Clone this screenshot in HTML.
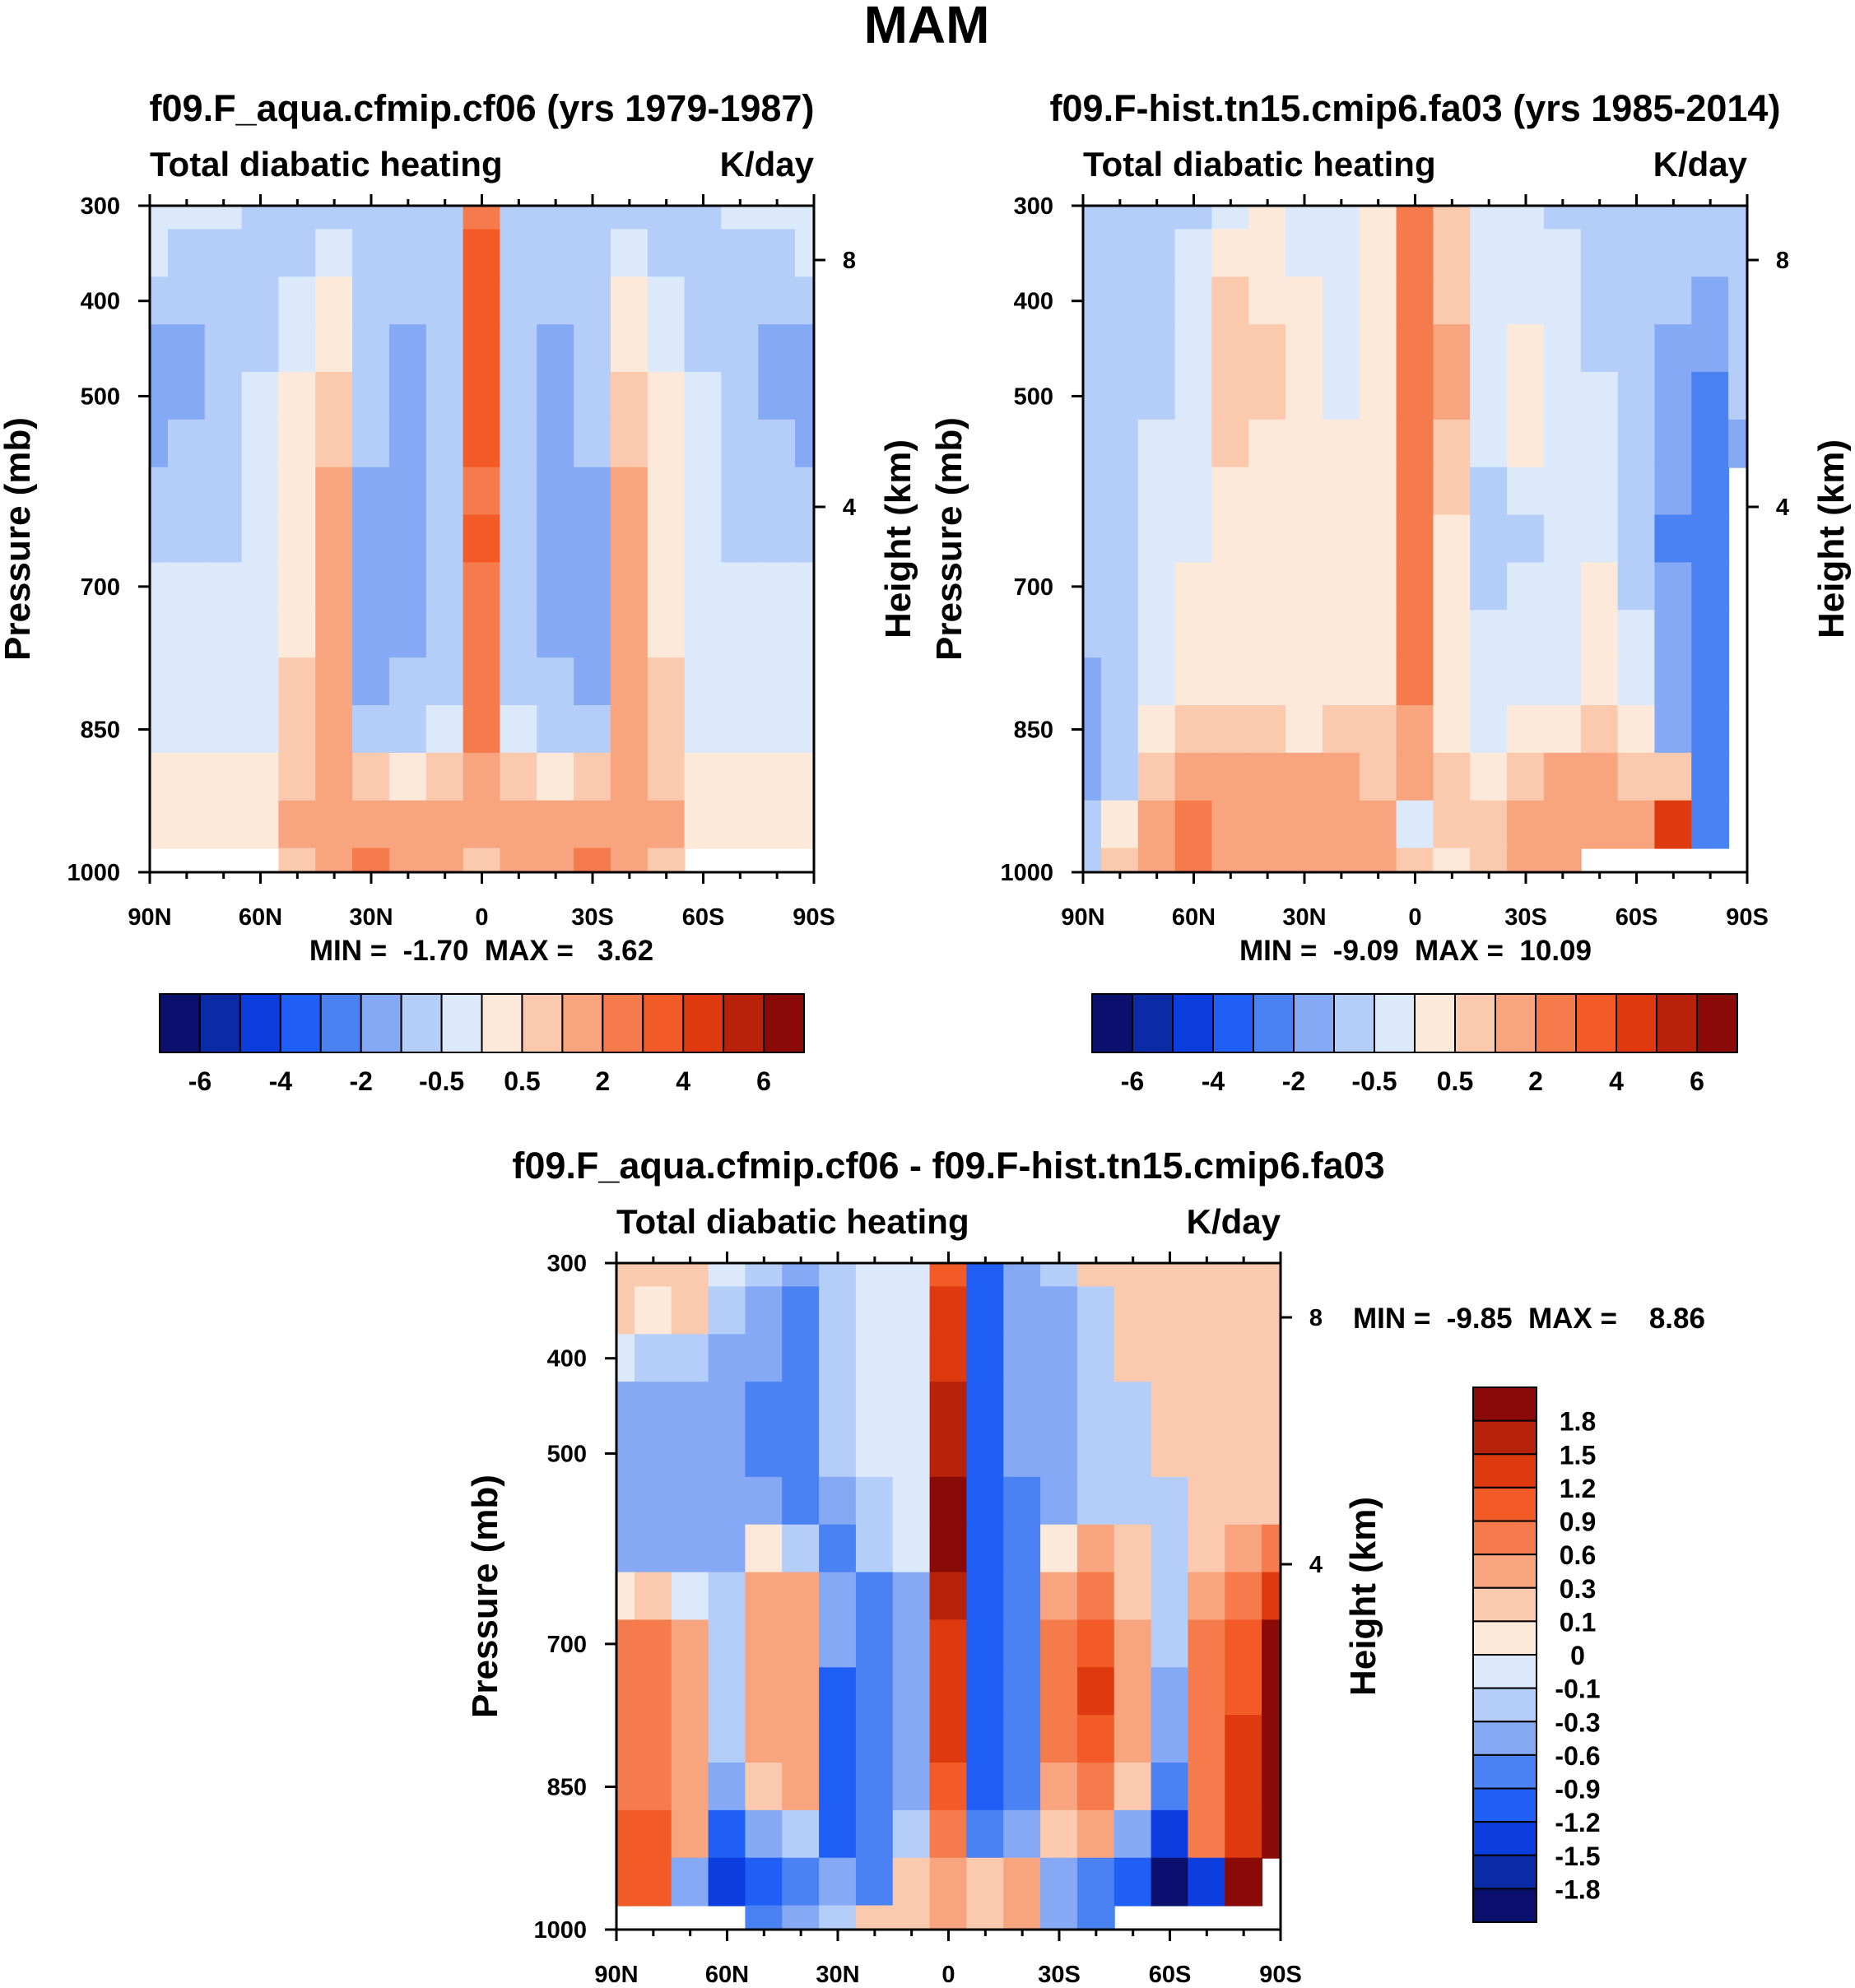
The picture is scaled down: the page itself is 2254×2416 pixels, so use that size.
<!DOCTYPE html>
<html><head><meta charset="utf-8">
<style>
html,body{margin:0;padding:0;background:#fff;}
svg{display:block;font-family:"Liberation Sans",Arial,sans-serif;font-weight:bold;}
</style></head>
<body>
<svg id="fig" width="2254" height="2416" viewBox="0 0 2254 2416" xmlns="http://www.w3.org/2000/svg">
<rect width="2254" height="2416" fill="#fff"/>
<text x="1126" y="52" font-size="64" text-anchor="middle">MAM</text>
</svg>
<script>
const lats=[90,80,70,60,50,40,30,20,10,0,-10,-20,-30,-40,-50,-60,-70,-80,-90];
const pressures=[300,350,400,450,500,550,600,650,700,750,800,850,900,950,1000];
const palette=["#0b0f6e","#0a2aa6","#0b3ddf","#1f5ff5","#4a82f4","#86a9f5","#b4cdf9","#dce9fb","#fde9d9","#fbc9ae","#f8a47f","#f57a4c","#f25a27","#df390f","#b8220b","#8a0a08"];
const levelsAbs=[-6,-5,-4,-3,-2,-1,-0.5,0,0.5,1,2,3,4,5,6];
const levelsDiff=[-1.8,-1.5,-1.2,-0.9,-0.6,-0.3,-0.1,0,0.1,0.3,0.6,0.9,1.2,1.5,1.8];
const absTickLabels=["-6","-4","-2","-0.5","0.5","2","4","6"];
const diffTickLabels=["1.8","1.5","1.2","0.9","0.6","0.3","0.1","0","-0.1","-0.3","-0.6","-0.9","-1.2","-1.5","-1.8"];
const latLabels=["90N","60N","30N","0","30S","60S","90S"];
const presLabels=[300,400,500,700,850,1000];
const heightTicks=[8,4];
const p1Values=[
[-0.3,-0.3,-0.3,-0.7,-0.7,-0.7,-0.7,-0.7,-0.7,2.5,-0.7,-0.7,-0.7,-0.7,-0.7,-0.7,-0.3,-0.3,-0.3],
[-0.3,-0.7,-0.7,-0.7,-0.7,-0.3,-0.7,-0.7,-0.7,3.5,-0.7,-0.7,-0.7,-0.3,-0.7,-0.7,-0.7,-0.7,-0.3],
[-0.7,-0.7,-0.7,-0.7,-0.3,0.3,-0.7,-0.7,-0.7,3.5,-0.7,-0.7,-0.7,0.3,-0.3,-0.7,-0.7,-0.7,-0.7],
[-1.5,-1.5,-0.7,-0.7,-0.3,0.3,-0.7,-1.5,-0.7,3.5,-0.7,-1.5,-0.7,0.3,-0.3,-0.7,-0.7,-1.5,-1.5],
[-1.5,-1.5,-0.7,-0.3,0.3,0.7,-0.7,-1.5,-0.7,3.5,-0.7,-1.5,-0.7,0.7,0.3,-0.3,-0.7,-1.5,-1.5],
[-1.5,-0.7,-0.7,-0.3,0.3,0.7,-0.7,-1.5,-0.7,3.5,-0.7,-1.5,-0.7,0.7,0.3,-0.3,-0.7,-0.7,-1.5],
[-0.7,-0.7,-0.7,-0.3,0.3,1.5,-1.5,-1.5,-0.7,2.5,-0.7,-1.5,-1.5,1.5,0.3,-0.3,-0.7,-0.7,-0.7],
[-0.7,-0.7,-0.7,-0.3,0.3,1.5,-1.5,-1.5,-0.7,3.5,-0.7,-1.5,-1.5,1.5,0.3,-0.3,-0.7,-0.7,-0.7],
[-0.3,-0.3,-0.3,-0.3,0.3,1.5,-1.5,-1.5,-0.7,2.5,-0.7,-1.5,-1.5,1.5,0.3,-0.3,-0.3,-0.3,-0.3],
[-0.3,-0.3,-0.3,-0.3,0.3,1.5,-1.5,-1.5,-0.7,2.5,-0.7,-1.5,-1.5,1.5,0.3,-0.3,-0.3,-0.3,-0.3],
[-0.3,-0.3,-0.3,-0.3,0.7,1.5,-1.5,-0.7,-0.7,2.5,-0.7,-0.7,-1.5,1.5,0.7,-0.3,-0.3,-0.3,-0.3],
[-0.3,-0.3,-0.3,-0.3,0.7,1.5,-0.7,-0.7,-0.3,2.5,-0.3,-0.7,-0.7,1.5,0.7,-0.3,-0.3,-0.3,-0.3],
[0.3,0.3,0.3,0.3,0.7,1.5,0.7,0.3,0.7,1.5,0.7,0.3,0.7,1.5,0.7,0.3,0.3,0.3,0.3],
[0.3,0.3,0.3,0.3,1.5,1.5,1.5,1.5,1.5,1.5,1.5,1.5,1.5,1.5,1.5,0.3,0.3,0.3,0.3],
[null,null,null,null,0.7,1.5,2.5,1.5,1.5,0.7,1.5,1.5,2.5,1.5,0.7,null,null,null,null]];
const p2Values=[
[-0.7,-0.7,-0.7,-0.7,-0.3,0.3,-0.3,-0.3,0.3,2.5,0.7,-0.3,-0.3,-0.7,-0.7,-0.7,-0.7,-0.7,-0.7],
[-0.7,-0.7,-0.7,-0.3,0.3,0.3,-0.3,-0.3,0.3,2.5,0.7,-0.3,-0.3,-0.3,-0.7,-0.7,-0.7,-0.7,-0.7],
[-0.7,-0.7,-0.7,-0.3,0.7,0.3,0.3,-0.3,0.3,2.5,0.7,-0.3,-0.3,-0.3,-0.7,-0.7,-0.7,-1.5,-0.7],
[-0.7,-0.7,-0.7,-0.3,0.7,0.7,0.3,-0.3,0.3,2.5,1.5,-0.3,0.3,-0.3,-0.7,-0.7,-1.5,-1.5,-0.7],
[-0.7,-0.7,-0.7,-0.3,0.7,0.7,0.3,-0.3,0.3,2.5,1.5,-0.3,0.3,-0.3,-0.3,-0.7,-1.5,-2.5,-0.7],
[-0.7,-0.7,-0.3,-0.3,0.7,0.3,0.3,0.3,0.3,2.5,0.7,-0.3,0.3,-0.3,-0.3,-0.7,-1.5,-2.5,-1.5],
[-0.7,-0.7,-0.3,-0.3,0.3,0.3,0.3,0.3,0.3,2.5,0.7,-0.7,-0.3,-0.3,-0.3,-0.7,-1.5,-2.5,null],
[-0.7,-0.7,-0.3,-0.3,0.3,0.3,0.3,0.3,0.3,2.5,0.3,-0.7,-0.7,-0.3,-0.3,-0.7,-2.5,-2.5,null],
[-0.7,-0.7,-0.3,0.3,0.3,0.3,0.3,0.3,0.3,2.5,0.3,-0.7,-0.3,-0.3,0.3,-0.7,-1.5,-2.5,null],
[-0.7,-0.7,-0.3,0.3,0.3,0.3,0.3,0.3,0.3,2.5,0.3,-0.3,-0.3,-0.3,0.3,-0.3,-1.5,-2.5,null],
[-1.5,-0.7,-0.3,0.3,0.3,0.3,0.3,0.3,0.3,2.5,0.3,-0.3,-0.3,-0.3,0.3,-0.3,-1.5,-2.5,null],
[-1.5,-0.7,0.3,0.7,0.7,0.7,0.3,0.7,0.7,1.5,0.3,-0.3,0.3,0.3,0.7,0.3,-1.5,-2.5,null],
[-1.5,-0.7,0.7,1.5,1.5,1.5,1.5,1.5,0.7,1.5,0.7,0.3,0.7,1.5,1.5,0.7,0.7,-2.5,null],
[-0.7,0.3,1.5,2.5,1.5,1.5,1.5,1.5,1.5,-0.3,0.7,0.7,1.5,1.5,1.5,1.5,4.5,-2.5,null],
[-0.7,0.7,1.5,2.5,1.5,1.5,1.5,1.5,1.5,0.7,0.3,0.7,1.5,1.5,null,null,null,null,null]];
const diffValues=[
[0.2,0.2,0.2,-0.05,-0.2,-0.4,-0.2,-0.05,-0.05,1.0,-1.0,-0.4,-0.2,0.2,0.2,0.2,0.2,0.2,0.2],
[0.2,0.05,0.2,-0.2,-0.4,-0.7,-0.2,-0.05,-0.05,1.3,-1.0,-0.4,-0.4,-0.2,0.2,0.2,0.2,0.2,0.2],
[-0.05,-0.2,-0.2,-0.4,-0.4,-0.7,-0.2,-0.05,-0.05,1.3,-1.0,-0.4,-0.4,-0.2,0.2,0.2,0.2,0.2,0.2],
[-0.4,-0.4,-0.4,-0.4,-0.7,-0.7,-0.2,-0.05,-0.05,1.6,-1.0,-0.4,-0.4,-0.2,-0.2,0.2,0.2,0.2,0.2],
[-0.4,-0.4,-0.4,-0.4,-0.7,-0.7,-0.2,-0.05,-0.05,1.6,-1.0,-0.4,-0.4,-0.2,-0.2,0.2,0.2,0.2,0.2],
[-0.4,-0.4,-0.4,-0.4,-0.4,-0.7,-0.4,-0.2,-0.05,1.9,-1.0,-0.7,-0.4,-0.2,-0.2,-0.2,0.2,0.2,0.2],
[-0.4,-0.4,-0.4,-0.4,0.05,-0.2,-0.7,-0.2,-0.05,1.9,-1.0,-0.7,0.05,0.4,0.2,-0.2,0.2,0.4,0.7],
[0.05,0.2,-0.05,-0.2,0.4,0.4,-0.4,-0.7,-0.4,1.6,-1.0,-0.7,0.4,0.7,0.2,-0.2,0.4,0.7,1.3],
[0.7,0.7,0.4,-0.2,0.4,0.4,-0.4,-0.7,-0.4,1.3,-1.0,-0.7,0.7,1.0,0.4,-0.2,0.7,1.0,1.9],
[0.7,0.7,0.4,-0.2,0.4,0.4,-1.0,-0.7,-0.4,1.3,-1.0,-0.7,0.7,1.3,0.4,-0.4,0.7,1.0,1.9],
[0.7,0.7,0.4,-0.2,0.4,0.4,-1.0,-0.7,-0.4,1.3,-1.0,-0.7,0.7,1.0,0.4,-0.4,0.7,1.3,1.9],
[0.7,0.7,0.4,-0.4,0.2,0.4,-1.0,-0.7,-0.4,1.0,-1.0,-0.7,0.4,0.7,0.2,-0.7,0.7,1.3,1.9],
[1.0,1.0,0.4,-1.0,-0.4,-0.2,-1.0,-0.7,-0.2,0.7,-0.7,-0.4,0.2,0.4,-0.4,-1.4,0.7,1.3,1.9],
[1.0,1.0,-0.4,-1.4,-1.0,-0.7,-0.4,-0.7,0.2,0.4,0.2,0.4,-0.4,-0.7,-1.0,-2.0,-1.4,2.0,null],
[null,null,null,null,-0.7,-0.4,-0.2,0.2,0.2,0.4,0.2,0.4,-0.4,-0.7,null,null,null,null,null]];

const NS="http://www.w3.org/2000/svg";
const svg=document.getElementById('fig');
function el(tag,attrs,parent,txt){const e=document.createElementNS(NS,tag);for(const k in attrs)e.setAttribute(k,attrs[k]);if(txt!==undefined)e.textContent=txt;(parent||svg).appendChild(e);return e;}
function colorFor(v,levels){let i=0;while(i<levels.length&&v>levels[i])i++;return palette[i];}

function drawPanel(name,x0,y0,w,h,values,levels,opts){
  const g=el('g',{});
  
  
  const xOf=lat=>x0+(90-lat)/180*w;
  const yOf=p=>y0+(p-300)/700*h;
  values.forEach((row,ri)=>{
    const p=pressures[ri];
    const ya=yOf(Math.max(300,p-25)), yb=yOf(Math.min(1000,p+25));
    row.forEach((v,ci)=>{
      if(v===null)return;
      const lat=lats[ci];
      const xa=xOf(Math.min(90,lat+5)), xb=xOf(Math.max(-90,lat-5));
      const r=el('rect',{x:xa-0.5,y:ya-0.5,width:xb-xa+1,height:yb-ya+1,fill:colorFor(v,levels)},g);
      
      
    });
  });
  const fr=el('rect',{x:x0,y:y0,width:w,height:h,fill:'none',stroke:'#000','stroke-width':3});
  
  
  for(let lat=90;lat>=-90;lat-=10){
    const x=xOf(lat);const major=lat%30===0;const L=major?14:8;
    el('line',{x1:x,y1:y0+h,x2:x,y2:y0+h+L,stroke:'#000','stroke-width':3});
    el('line',{x1:x,y1:y0,x2:x,y2:y0-L,stroke:'#000','stroke-width':3});
  }
  latLabels.forEach((lb,i)=>{
    const t=el('text',{x:xOf(90-30*i),y:y0+h+64,'font-size':29,'text-anchor':'middle'},svg,lb);
    
    
  });
  presLabels.forEach(p=>{
    const y=yOf(p);
    el('line',{x1:x0-14,y1:y,x2:x0,y2:y,stroke:'#000','stroke-width':3});
    const t=el('text',{x:x0-36,y:y+10,'font-size':29,'text-anchor':'end'},svg,String(p));
    
    
  });
  heightTicks.forEach(k=>{
    const y=y0+(k===8?66:366);
    el('line',{x1:x0+w,y1:y,x2:x0+w+14,y2:y,stroke:'#000','stroke-width':3});
    const t=el('text',{x:x0+w+43,y:y+10,'font-size':29,'text-anchor':'middle'},svg,String(k));
    
    
  });
  let t=el('text',{x:x0+w/2,y:y0-103,'font-size':45,'text-anchor':'middle'},svg,opts.title);
  
  
  t=el('text',{x:x0,y:y0-36,'font-size':42},svg,'Total diabatic heating');
  
  
  t=el('text',{x:x0+w,y:y0-36,'font-size':42,'text-anchor':'end'},svg,'K/day');
  
  
  t=el('text',{x:opts.pressX,y:0,'font-size':44,'text-anchor':'middle',transform:`rotate(-90 ${opts.pressX} ${y0+h/2}) translate(0 ${y0+h/2})`},svg,'Pressure (mb)');
  
  
  t=el('text',{x:opts.heightX,y:0,'font-size':44,'text-anchor':'middle',transform:`rotate(-90 ${opts.heightX} ${y0+h/2}) translate(0 ${y0+h/2})`},svg,'Height (km)');
  
  
}

function hColorbar(name,x0,y0,w,h){
  const g=el('g',{});
  
  
  const bw=w/16;
  palette.forEach((c,i)=>{
    const r=el('rect',{x:x0+i*bw,y:y0,width:bw,height:h,fill:c,stroke:'#000','stroke-width':2},g);
    
    
  });
  absTickLabels.forEach((lb,i)=>{
    const t=el('text',{x:x0+(2*i+1)*bw,y:y0+h+46,'font-size':32,'text-anchor':'middle'},g,lb);
    
    
  });
}

drawPanel('panel-aqua',182,250,807,810,p1Values,levelsAbs,{title:'f09.F_aqua.cfmip.cf06 (yrs 1979-1987)',pressX:36,heightX:1106});
drawPanel('panel-hist',1316,250,807,810,p2Values,levelsAbs,{title:'f09.F-hist.tn15.cmip6.fa03 (yrs 1985-2014)',pressX:1168,heightX:2240});
drawPanel('panel-diff',749,1535,807,810,diffValues,levelsDiff,{title:'f09.F_aqua.cfmip.cf06 - f09.F-hist.tn15.cmip6.fa03',pressX:604,heightX:1671});

let t=el('text',{x:585,y:1167,'font-size':35,'text-anchor':'middle'},svg,'MIN =  -1.70  MAX =   3.62');


t=el('text',{x:1720,y:1167,'font-size':35,'text-anchor':'middle'},svg,'MIN =  -9.09  MAX =  10.09');


t=el('text',{x:1644,y:1614,'font-size':35},svg,'MIN =  -9.85  MAX =    8.86');


document.querySelectorAll('text').forEach(n=>n.setAttribute('style','white-space:pre'));

hColorbar('colorbar-aqua',194,1208,783,71);
hColorbar('colorbar-hist',1327,1208,784,71);

const vg=el('g',{});


const vx=1790,vy=1686,vw=77,vh=650,bh=vh/16;
palette.slice().reverse().forEach((c,i)=>{
  const r=el('rect',{x:vx,y:vy+i*bh,width:vw,height:bh,fill:c,stroke:'#000','stroke-width':2},vg);
  
  
});
diffTickLabels.forEach((lb,i)=>{
  const tt=el('text',{x:vx+vw+50,y:vy+(i+1)*bh+12,'font-size':32,'text-anchor':'middle'},vg,lb);
  
  
});
</script>
</body></html>
